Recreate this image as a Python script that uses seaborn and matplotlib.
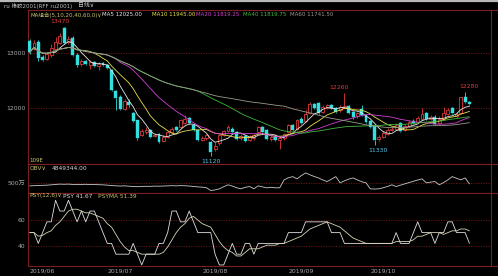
import numpy as np
import pandas as pd
import matplotlib
matplotlib.use("Agg")
import matplotlib.pyplot as plt
from matplotlib.lines import Line2D
import seaborn as sns

# ---------------- data ----------------
title_text = "ru 橡胶2001(RFF ru2001)"
period_text = "日线∨"

opens = [13210, 13060, 13195, 12920, 12880, 12950, 13060, 13180, 13450, 13200,
         13270, 12960, 12790, 12850, 12780, 12830, 12760, 12810, 12780, 12685,
         12300, 12200, 11980, 12100, 11900, 11770, 11500, 11560, 11590, 11480,
         11520, 11400, 11470, 11560, 11650, 11650, 11720, 11810, 11690, 11600,
         11420, 11450, 11380, 11250, 11350, 11500, 11570, 11620, 11560, 11440,
         11480, 11420, 11440, 11560, 11640, 11600, 11430, 11480, 11420, 11440,
         11560, 11680, 11620, 11800, 11760, 11900, 12060, 12080, 11920, 12000,
         12040, 12000, 11950, 12000, 12030, 11920, 11840, 11980, 11870, 11750,
         11660, 11430, 11460, 11530, 11590, 11620, 11720, 11600, 11670, 11760,
         11740, 11790, 11900, 11800, 11830, 11720, 11800, 11890, 11990, 11840,
         11900, 12195, 12110]
closes = [13010, 13180, 12904, 12870, 12980, 13080, 13200, 13300, 13180, 13250,
          12960, 12775, 12850, 12790, 12830, 12760, 12800, 12770, 12720, 12320,
          12180, 11980, 12120, 12050, 11760, 11450, 11580, 11600, 11460, 11500,
          11380, 11470, 11560, 11610, 11600, 11770, 11800, 11730, 11600, 11410,
          11450, 11500, 11200, 11300, 11500, 11580, 11640, 11560, 11430, 11480,
          11400, 11470, 11500, 11640, 11550, 11430, 11470, 11420, 11450, 11520,
          11680, 11600, 11780, 11720, 11880, 12060, 12000, 11900, 12010, 12050,
          11990, 11930, 12020, 12030, 11910, 11830, 11900, 11870, 11740, 11650,
          11420, 11470, 11540, 11600, 11620, 11680, 11580, 11670, 11740, 11720,
          11810, 11880, 11800, 11830, 11700, 11800, 11900, 11960, 11900, 11880,
          12190, 12105, 12060]
highs = [13250, 13230, 13230, 12960, 13010, 13150, 13280, 13360, 13470, 13300,
         13300, 12990, 12880, 12870, 12860, 12850, 12830, 12830, 12800, 12700,
         12320, 12230, 12160, 12150, 11920, 11780, 11620, 11640, 11610, 11540,
         11540, 11500, 11580, 11640, 11670, 11800, 11870, 11830, 11700, 11620,
         11480, 11520, 11400, 11380, 11530, 11600, 11680, 11650, 11580, 11520,
         11500, 11500, 11530, 11660, 11660, 11620, 11500, 11500, 11480, 11540,
         11700, 11700, 11800, 11830, 11950, 12100, 12090, 12100, 12050, 12070,
         12060, 12020, 12050, 12260, 12050, 11940, 11930, 12040, 11890, 11770,
         11680, 11500, 11570, 11630, 11650, 11720, 11740, 11700, 11780, 11800,
         11850, 12000, 11920, 11860, 11860, 11840, 12010, 11990, 12010, 11920,
         12200, 12280, 12130]
lows = [12980, 13040, 12850, 12840, 12860, 12930, 13040, 13150, 13160, 13150,
        12940, 12740, 12760, 12770, 12700, 12740, 12690, 12750, 12700, 12300,
        11960, 11960, 11950, 12020, 11740, 11420, 11480, 11530, 11440, 11460,
        11360, 11370, 11450, 11540, 11580, 11630, 11700, 11710, 11580, 11390,
        11400, 11420, 11120, 11220, 11330, 11480, 11550, 11540, 11410, 11420,
        11380, 11400, 11410, 11540, 11530, 11410, 11400, 11400, 11250, 11420,
        11540, 11580, 11600, 11700, 11740, 11880, 11980, 11880, 11900, 11980,
        11970, 11910, 11930, 11990, 11890, 11800, 11820, 11850, 11720, 11630,
        11330, 11400, 11440, 11510, 11570, 11600, 11560, 11580, 11650, 11700,
        11720, 11770, 11780, 11780, 11680, 11700, 11780, 11870, 11880, 11820,
        11880, 12090, 12040]

ma_windows = [5, 10, 20, 40, 60]
ma_names = ["MA5", "MA10", "MA20", "MA40", "MA60"]
ma_values_text = ["12025.00", "11945.00", "11819.25", "11819.75", "11741.50"]
ma_group_text = "MA组合(5,10,20,40,60,0)∨"

# OBV in units of 万 (10,000)
obv_wan = [462, 464, 466, 468, 470, 474, 478, 482, 480, 482,
           478, 476, 478, 480, 477, 478, 475, 474, 470, 466,
           462, 460, 462, 458, 454, 452, 455, 457, 456, 459,
           458, 460, 462, 464, 462, 465, 463, 460, 455, 450,
           447, 440, 408, 415, 428, 452, 474, 460, 440, 428,
           445, 454, 428, 462, 450, 439, 445, 439, 440, 531,
           555, 569, 543, 580, 612, 590, 570, 554, 530, 512,
           540, 569, 497, 520, 540, 554, 530, 510, 497, 428,
           425, 428, 440, 455, 474, 454, 470, 485, 500, 515,
           530, 543, 497, 505, 512, 474, 500, 531, 569, 550,
           531, 554, 484.9344]
obv_text = "4849344.00"

psy = [50, 50, 41.67, 50, 58.33, 58.33, 75, 66.67, 66.67, 75,
       66.67, 58.33, 66.67, 58.33, 66.67, 66.67, 58.33, 50, 41.67, 41.67,
       33.33, 33.33, 33.33, 33.33, 41.67, 33.33, 25, 33.33, 33.33, 33.33,
       41.67, 41.67, 50, 66.67, 66.67, 58.33, 58.33, 66.67, 58.33, 50,
       50, 50, 50, 33.33, 25, 25, 33.33, 41.67, 33.33, 33.33,
       41.67, 41.67, 33.33, 41.67, 41.67, 41.67, 41.67, 41.67, 41.67, 41.67,
       50, 50, 50, 50, 58.33, 58.33, 58.33, 58.33, 58.33, 58.33,
       50, 50, 50, 41.67, 41.67, 41.67, 41.67, 41.67, 41.67, 41.67,
       41.67, 41.67, 41.67, 41.67, 41.67, 50, 41.67, 41.67, 41.67, 50,
       58.33, 50, 50, 50, 41.67, 50, 50, 58.33, 58.33, 50,
       50, 50, 41.67]
psy_text = ["PSY(12,6)∨", "PSY 41.67", "PSYMA 51.39"]

month_labels = ["2019/06", "2019/07", "2019/08", "2019/09", "2019/10"]
month_start_idx = [0, 18, 40, 60, 79]

price_ticks = [13000, 12000]
price_tick_labels = ["13000", "12000"]
obv_ticks = [500]
obv_tick_labels = ["500万"]
psy_ticks = [60, 40]
psy_tick_labels = ["60", "40"]

# extreme-value labels: (candle index, value, is_high)
extremes = [(8, 13470, True), (42, 11120, False), (73, 12260, True),
            (80, 11330, False), (101, 12280, True)]
extreme_offsets = [(-2.7, 2.0), (0, -1.8), (-4.0, 2.2), (2.5, -2.2), (3.0, 2.2)]

assert len(opens) == len(closes) == len(highs) == len(lows) == len(obv_wan) == len(psy)

# ---------------- styling ----------------
sns.set_theme(style="dark")
plt.rcParams['font.family'] = ['DejaVu Sans', 'Noto Sans CJK SC']

BG = "#000000"
BORDER = "#7a1e1e"
GRID = "#6a1a1a"
UP = "#e03a3a"
DOWN = "#33e0e0"
LABEL = "#a8a8a8"
OLIVE = "#c8c070"
ma_colors = ["#e8e8e8", "#e6e24a", "#d23fd2", "#3fb83f", "#9a9a8a"]

W, H = 498, 276
fig = plt.figure(figsize=(W / 100, H / 100), dpi=100, facecolor=BG)


def box(x0, y0, x1, y1):
    return [x0 / W, 1 - y1 / H, (x1 - x0) / W, (y1 - y0) / H]


ax_main = fig.add_axes(box(28, 10, 491, 164))
ax_obv = fig.add_axes(box(28, 164, 491, 192.5), sharex=ax_main)
ax_psy = fig.add_axes(box(28, 192.5, 491, 266), sharex=ax_main)

n = len(closes)
idx = np.arange(n)
df = pd.DataFrame({"i": idx, "open": opens, "close": closes, "high": highs,
                   "low": lows, "obv": obv_wan, "psy": psy})
for w, name in zip(ma_windows, ma_names):
    df[name] = df["close"].rolling(w, min_periods=1).mean()
df["psyma"] = df["psy"].rolling(6, min_periods=1).mean()

for ax in (ax_main, ax_obv, ax_psy):
    ax.set_facecolor(BG)
    for s in ax.spines.values():
        s.set_color(BORDER)
        s.set_linewidth(0.8)
    ax.grid(False)
    ax.tick_params(axis='both', length=0, labelsize=4.4, colors=LABEL, pad=2)

# ---- candles ----
body_w = 0.68
for r in df.itertuples():
    up = r.close >= r.open
    col = UP if up else DOWN
    lo_b, hi_b = min(r.open, r.close), max(r.open, r.close)
    ax_main.vlines(r.i, r.low, lo_b, color=col, lw=0.6, zorder=2)
    ax_main.vlines(r.i, hi_b, r.high, color=col, lw=0.6, zorder=2)
    h = max(hi_b - lo_b, 8)
    if up:
        ax_main.bar(r.i, h, bottom=lo_b, width=body_w, facecolor=BG,
                    edgecolor=col, linewidth=0.6, zorder=3)
    else:
        ax_main.bar(r.i, h, bottom=lo_b, width=body_w, facecolor=col,
                    edgecolor=col, linewidth=0.3, zorder=3)

for name, c in zip(ma_names, ma_colors):
    sns.lineplot(data=df, x="i", y=name, ax=ax_main, color=c, linewidth=0.6,
                 estimator=None, sort=False, legend=False, zorder=4)

ax_main.set_xlim(-0.39, 107.0)
ax_main.set_ylim(10976, 13776)
for p in price_ticks:
    ax_main.axhline(p, color=GRID, lw=0.6, ls=(0, (1.5, 1.5)), zorder=1)
ax_main.set_yticks(price_ticks, price_tick_labels)
ax_main.set_xlabel("")
ax_main.set_ylabel("")
ax_main.tick_params(axis='x', labelbottom=False)

for (i, v, is_high), (dx, dy) in zip(extremes, extreme_offsets):
    ax_main.annotate(f"{v}", xy=(i, v), xytext=(dx, dy),
                     textcoords="offset points", ha="center",
                     va="bottom" if is_high else "top",
                     fontsize=4.4, color=UP if is_high else "#4fc8e8", zorder=5)

# ---- OBV ----
sns.lineplot(data=df, x="i", y="obv", ax=ax_obv, color="#c8c8c8", linewidth=0.6,
             estimator=None, sort=False, legend=False)
ax_obv.set_ylim(385, 715)
for t in obv_ticks:
    ax_obv.axhline(t, color=GRID, lw=0.6, ls=(0, (1.5, 1.5)), zorder=1)
ax_obv.set_yticks(obv_ticks, obv_tick_labels)
ax_obv.set_xlabel("")
ax_obv.set_ylabel("")
ax_obv.tick_params(axis='x', labelbottom=False)

# ---- PSY ----
sns.lineplot(data=df, x="i", y="psy", ax=ax_psy, color="#e0e0e0", linewidth=0.6,
             estimator=None, sort=False, legend=False)
sns.lineplot(data=df, x="i", y="psyma", ax=ax_psy, color="#d8d4b8", linewidth=0.6,
             estimator=None, sort=False, legend=False)
ax_psy.set_ylim(24.2, 81)
for t in psy_ticks:
    ax_psy.axhline(t, color=GRID, lw=0.6, ls=(0, (1.5, 1.5)), zorder=1)
ax_psy.set_yticks(psy_ticks, psy_tick_labels)
ax_psy.set_xticks(month_start_idx, month_labels)
for lab in ax_psy.get_xticklabels():
    lab.set_ha("left")
ax_psy.tick_params(axis='x', pad=1.5)
ax_psy.set_xlabel("")
ax_psy.set_ylabel("")


# ---------------- header texts ----------------
def ftext(x, y, s, color, size=4.2):
    fig.text(x / W, 1 - y / H, s, color=color, fontsize=size, va="center", ha="left")


fig.add_artist(Line2D([0, 1], [1 - 0.8 / H, 1 - 0.8 / H], color="#b8b8b8", lw=1.6))
ftext(4, 5.5, title_text, "#bdbdbd", 4.0)
ftext(78, 5.5, period_text, "#d0d0d0", 4.2)
ftext(30, 15, ma_group_text, OLIVE, 4.0)
ma_x = [102, 152, 196, 243, 290]
for x, name, val, c in zip(ma_x, ma_names, ma_values_text, ma_colors):
    ftext(x, 15, f"{name} {val}", c, 4.0)
ftext(29, 160, "109E", OLIVE, 4.0)
ftext(30, 169, "OBV∨", OLIVE, 4.2)
ftext(52, 169, obv_text, "#d8d8d8", 4.2)
ftext(29, 196, psy_text[0], OLIVE, 4.2)
ftext(63, 196, psy_text[1], "#d8d8d8", 4.2)
ftext(98, 196, psy_text[2], OLIVE, 4.2)

# borders continuing to the right edge
for y in (10, 164, 192.5, 266):
    fig.add_artist(Line2D([491 / W, 1], [1 - y / H, 1 - y / H], color=BORDER, lw=0.8))

fig.savefig("out.png", dpi=100, facecolor=BG)
